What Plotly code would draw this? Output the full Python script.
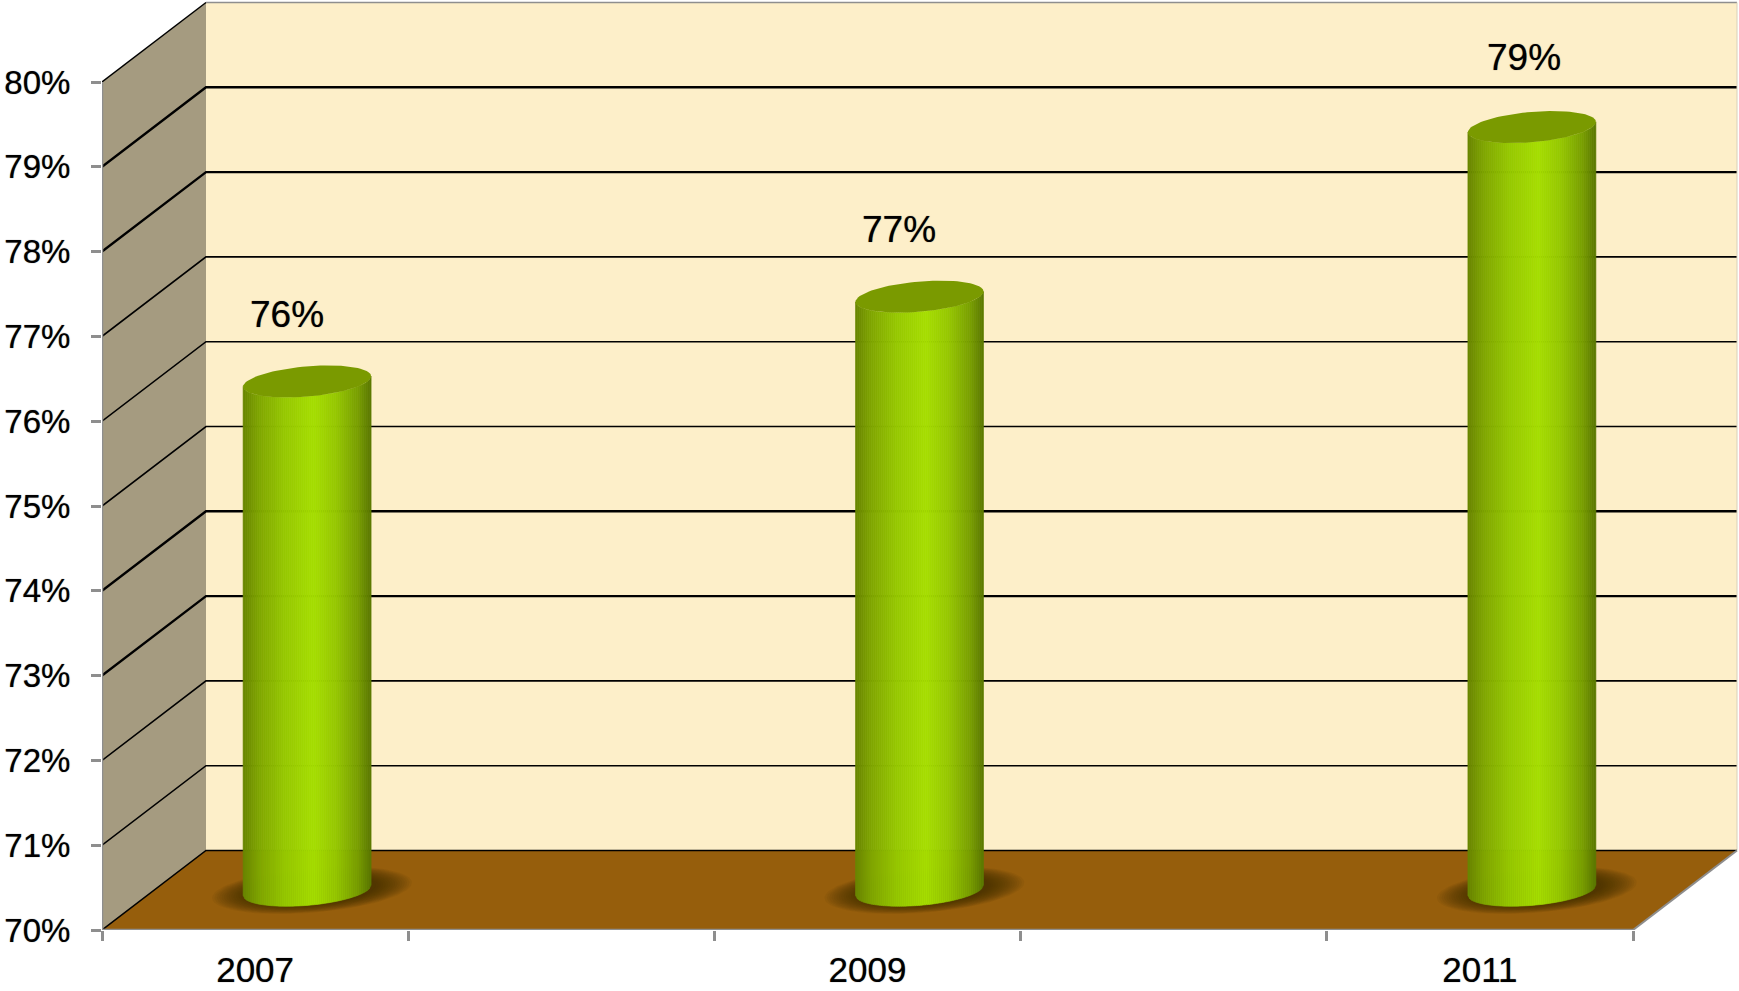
import numpy as np
import plotly.graph_objects as go

# chart values
years = ["2007", "2009", "2011"]
values = [76, 77, 79]
value_labels = ["76%", "77%", "79%"]
y_ticks = [70, 71, 72, 73, 74, 75, 76, 77, 78, 79, 80]
y_tick_labels = ["70%", "71%", "72%", "73%", "74%", "75%", "76%", "77%", "78%", "79%", "80%"]
x_tick_edges = [0, 1, 2, 3, 4, 5]
bar_slots = [0.5, 2.5, 4.5]
label_shift = [-20, -21, -8]
label_lift = [67, 67, 70]

# per gridline widths (70% .. 80%), the source image was rescaled so they differ
grid_widths = [1.6, 1.6, 1.6, 2.4, 2.4, 1.6, 1.6, 1.8, 2.4, 2.4, 1.6]

# layout in pixels
W, H = 1739, 991
left, bottom = 102, 61
px_x, px_y = 306.2, 84.8  # pixels per x unit / per 1%
depth_x, depth_y = 104 / px_x, 79.5 / px_y
x_end = 5 + depth_x

radius_x = 64 / px_x
ell_b = 20.8 / px_x
ell_c = 16 / px_y
phi = np.arctan2(20.8, 60.5)

WALL, BACK, FLOOR = "#A59B80", "#FDEFC9", "#965E0C"
AXIS = "#8E8E8E"
TOP = "#7A9A00"
TEXT_SOFT = "0 0 1px rgba(0,0,0,0.6)"  # source text is slightly blurred and heavy

fig = go.Figure()


def poly(xs, ys, color, opacity=1.0, line_width=0):
    fig.add_trace(go.Scatter(
        x=xs, y=ys, mode="lines", fill="toself", fillcolor=color, opacity=opacity,
        line=dict(color=color, width=line_width), hoverinfo="skip", showlegend=False,
        cliponaxis=False,
    ))


def line(xs, ys, color, width):
    fig.add_trace(go.Scatter(
        x=xs, y=ys, mode="lines", line=dict(color=color, width=width),
        hoverinfo="skip", showlegend=False, cliponaxis=False,
    ))


def ellipse(cx, cy, scale=1.0):
    t = np.linspace(0, 2 * np.pi, 90)
    a = radius_x * np.cos(phi)
    return (cx + scale * (a * np.cos(t) + ell_b * np.sin(t)),
            cy + scale * ell_c * np.sin(t))


def body_color(u):
    # horizontal shading of the cylinder, u from -1 to 1
    stops_u = [-1.0, -0.75, -0.35, 0.1, 0.45, 0.8, 1.0]
    stops_r = [104, 128, 150, 166, 150, 120, 90]
    stops_g = [132, 166, 200, 222, 200, 158, 120]
    return "rgb(%d,%d,0)" % (np.interp(u, stops_u, stops_r), np.interp(u, stops_u, stops_g))


y0, y1 = y_ticks[0], y_ticks[-1]

# walls and floor
poly([0, depth_x, depth_x, 0, 0], [y0, y0 + depth_y, y1 + depth_y, y1, y0], WALL)
poly([depth_x, x_end, x_end, depth_x, depth_x],
     [y0 + depth_y, y0 + depth_y, y1 + depth_y, y1 + depth_y, y0 + depth_y], BACK)

# gridlines run across the side wall and then along the back wall
for v, w in zip(y_ticks[1:], grid_widths[1:]):
    line([0, depth_x, x_end if v < y1 else depth_x],
         [v, v + depth_y, v + depth_y], "black", w if v < y1 else 1.5)
line([depth_x, x_end], [y1 + depth_y, y1 + depth_y], AXIS, 1.5)
line([x_end, x_end], [y0 + depth_y, y1 + depth_y], "#D8D0B8", 1)

poly([0, 5, x_end, depth_x, 0], [y0, y0, y0 + depth_y, y0 + depth_y, y0], FLOOR)
line([0, depth_x, x_end], [y0, y0 + depth_y, y0 + depth_y], "black", 1.5)
line([5, x_end], [y0, y0 + depth_y], AXIS, 2)

# axis lines stop at the front of the box
line([0, 0], [y0, y1], AXIS, 2.5)
line([0, 5], [y0, y0], AXIS, 2.5)

# shadows, cylinders
for slot, val in zip(bar_slots, values):
    cx = slot + depth_x / 2
    cy = y0 + depth_y / 2
    for s in np.linspace(1.56, 1.0, 16):
        xs, ys = ellipse(cx + 0.016, cy, s)
        ys = cy + (ys - cy) * 0.95
        poly(xs, ys, "#3E2806", opacity=0.07)

    top = val + depth_y / 2
    edges = np.linspace(-1, 1, 65)
    for a, b in zip(edges[:-1], edges[1:]):
        us = np.array([a, b])
        front = ell_c * np.sin(phi - np.arccos(us))
        xs = cx + radius_x * us
        poly([xs[0], xs[1], xs[1], xs[0], xs[0]],
             [cy + front[0], cy + front[1], top + front[1], top + front[0], cy + front[0]],
             body_color((a + b) / 2), line_width=0.6)
    xs, ys = ellipse(cx, top)
    poly(xs, ys, TOP)

# value labels sit above the cylinders
for slot, val, txt, shift, lift in zip(bar_slots, values, value_labels, label_shift, label_lift):
    fig.add_annotation(
        x=slot + depth_x / 2, y=val + depth_y / 2, text=txt, showarrow=False,
        xshift=shift, yshift=lift,
        font=dict(family="Liberation Sans", size=37, color="black", shadow=TEXT_SOFT),
    )

fig.update_layout(
    width=W, height=H,
    margin=dict(l=left, r=0, t=0, b=bottom, pad=0),
    paper_bgcolor="white", plot_bgcolor="white",
    showlegend=False,
    font=dict(family="Liberation Sans", color="black"),
)
fig.update_xaxes(
    range=[0, (W - left) / px_x], automargin=False,
    showgrid=False, zeroline=False, showline=False,
    tickmode="array", tickvals=bar_slots, ticktext=years, ticks="", ticklabelstandoff=16,
    tickfont=dict(family="Liberation Sans", size=35, color="black", shadow=TEXT_SOFT),
    minor=dict(tickmode="array", tickvals=x_tick_edges, ticks="outside", ticklen=10,
               tickcolor=AXIS, tickwidth=2.5, showgrid=False),
)
fig.update_yaxes(
    range=[y0, y0 + (H - bottom) / px_y], automargin=False,
    showgrid=False, zeroline=False, showline=False,
    tickmode="array", tickvals=y_ticks, ticktext=y_tick_labels,
    ticks="outside", ticklen=10, tickcolor=AXIS, tickwidth=2.5, ticklabelstandoff=14,
    tickfont=dict(family="Liberation Sans", size=33, color="black", shadow=TEXT_SOFT),
)

fig.write_html("out.html", config=dict(displayModeBar=False),
               post_script="document.body.style.margin='0';")
